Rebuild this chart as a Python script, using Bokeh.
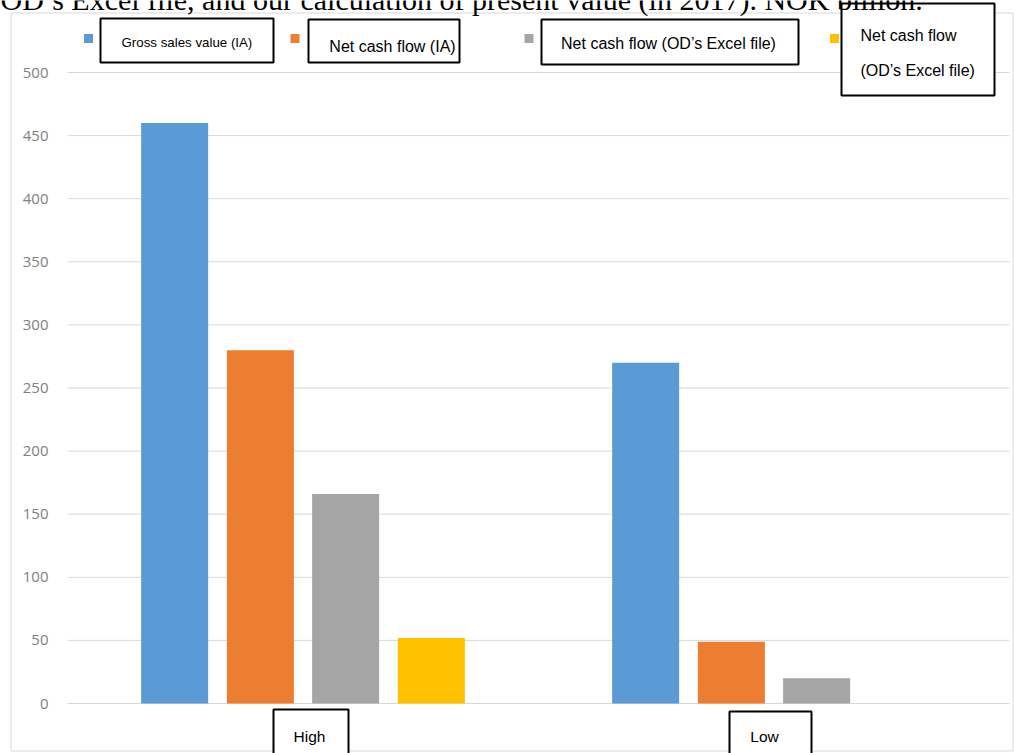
from bokeh.plotting import figure
from bokeh.models import (ColumnDataSource, Range1d, FixedTicker,
                          BoxAnnotation, Label, LinearAxis)
from bokeh.embed import file_html
from bokeh.resources import INLINE
from bokeh.core.properties import value

# ---------------- data ----------------
categories = ["High", "Low"]
series_names = ["Gross sales value (IA)", "Net cash flow (IA)",
                "Net cash flow (OD’s Excel file)", "Net cash flow (OD’s Excel file)"]
gross_sales_ia = [460, 270]
net_cash_ia = [280, 49]
net_cash_od = [166, 20]
net_cash_od_pv = [52, 0]
series_colors = ["#5b9bd5", "#ed7d31", "#a5a5a5", "#ffc000"]
y_ticks = [0, 50, 100, 150, 200, 250, 300, 350, 400, 450, 500]
title_text = "OD’s Excel file, and our calculation of present value (in 2017). NOK billion."

# ---------------- layout constants ----------------
W, H = 1014, 753
PLOT_L, PLOT_R = 67, 1009          # pixel extent of the category area
Y0_PX, YTOP_PX = 703, 72           # pixel rows of 0 and 500
ppu = (Y0_PX - YTOP_PX) / 500.0
cat_px = (PLOT_R - PLOT_L) / len(categories)


def xd(px):
    return (px - PLOT_L) / cat_px


def yd(py):
    return (Y0_PX - py) / ppu


p = figure(width=W, height=H, x_range=Range1d(xd(0), xd(W)),
           y_range=Range1d(yd(H), yd(0)), output_backend="svg",
           toolbar_location=None, min_border_left=0, min_border_right=0,
           min_border_top=0, min_border_bottom=0,
           x_axis_location=None, y_axis_location=None)
p.outline_line_color = None
p.background_fill_color = "white"
p.border_fill_color = "white"
p.xgrid.visible = False
p.ygrid.visible = False

# y axis drawn at the left edge of the category area
yaxis = LinearAxis(ticker=FixedTicker(ticks=y_ticks), fixed_location=0)
yaxis.axis_line_color = None
yaxis.major_tick_line_color = None
yaxis.minor_tick_line_color = None
yaxis.major_tick_out = 0
yaxis.major_tick_in = 0
yaxis.major_label_standoff = 19
yaxis.major_label_text_font = "Open Sans"
yaxis.major_label_text_font_size = "15px"
yaxis.major_label_text_color = "#808080"
p.add_layout(yaxis, "left")

# horizontal gridlines across the category area
grid_src = ColumnDataSource(dict(y=y_ticks, x0=[0] * len(y_ticks),
                                 x1=[len(categories)] * len(y_ticks)))
g = p.segment(x0="x0", y0="y", x1="x1", y1="y", source=grid_src,
              line_color="#d9d9d9", line_width=1)
g.level = "underlay"

# outer chart border
p.add_layout(BoxAnnotation(left=xd(10.5), right=xd(1012.5), top=yd(12.5), bottom=yd(750.5),
                           fill_alpha=0, line_color="#d9d9d9", line_alpha=1,
                           line_width=1, level="underlay"))

centers = [i + 0.5 for i in range(len(categories))]
offsets = [-0.2725, -0.0905, 0.0905, 0.2725]
bar_w = 0.1423
series_values = [gross_sales_ia, net_cash_ia, net_cash_od, net_cash_od_pv]
for i, vals in enumerate(series_values):
    src = ColumnDataSource(dict(x=[c + offsets[i] for c in centers], top=vals))
    p.vbar(x="x", top="top", bottom=0, width=bar_w, fill_color=series_colors[i],
           line_color=None, source=src)

# legend swatches
swatch_cx = [88, 294.5, 528.5, 834]
for cx, c in zip(swatch_cx, series_colors):
    p.add_layout(BoxAnnotation(left=xd(cx - 4.5), right=xd(cx + 4.5), top=yd(33.5),
                               bottom=yd(42.5), fill_color=c, fill_alpha=1,
                               line_color=None, level="glyph"))

# overlay boxes (white with black border)
boxes = [(100, 273, 18, 62), (308, 459, 19, 62), (541, 798, 19, 64), (841, 994, 3, 95),
         (273, 348, 709, 770), (729, 811, 711, 770)]
for l, r, t, b in boxes:
    p.add_layout(BoxAnnotation(left=xd(l), right=xd(r), top=yd(t), bottom=yd(b),
                               fill_color="white", fill_alpha=1, line_color="black",
                               line_alpha=1, line_width=2, level="glyph"))

# texts in boxes
texts = [(series_names[0], 186.4, 41.7, "13.3px", "center"),
         (series_names[1], 392, 46, "16px", "center"),
         (series_names[2], 668, 43, "16px", "center"),
         ("Net cash flow", 860, 35, "16px", "left"),
         ("(OD’s Excel file)", 860, 70, "16px", "left")]
for t, x, y, fs, al in texts:
    p.add_layout(Label(x=xd(x), y=yd(y), text=t, text_font="Liberation Sans",
                       text_font_size=fs, text_color="black", text_align=al,
                       text_baseline="middle", level="overlay"))

# category labels
lab_src = ColumnDataSource(dict(x=centers, cat=categories, dx=[6.5, -9.5]))
r = p.text(x="x", y=yd(736.3), text="cat", x_offset="dx", source=lab_src,
           text_align="center", text_baseline="middle",
           text_font=value("Liberation Sans"), text_font_size="15.5px",
           text_color="black")
r.level = "overlay"

# title line (partially cut at the top, as in the source page)
p.add_layout(Label(x=xd(0), y=yd(-1), text=title_text, text_font="Liberation Serif",
                   text_font_size="30px", text_color="black", text_align="left",
                   text_baseline="middle", level="overlay"))

open("out.html", "w").write(file_html(p, INLINE))
